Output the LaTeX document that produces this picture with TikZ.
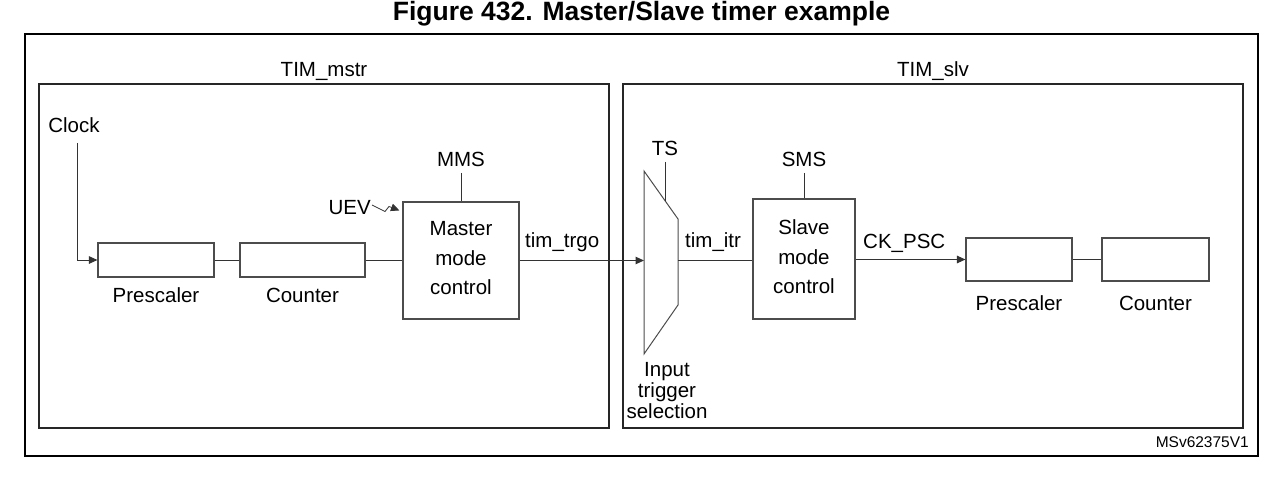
\documentclass[tikz,border=0pt]{standalone}
\usepackage{fontspec}
\setmainfont{Liberation Sans}
\usetikzlibrary{arrows.meta,calc}
\begin{document}
\begin{tikzpicture}[x=1pt,y=-1pt,
  txt/.style={inner sep=0pt,font=\fontsize{20.5}{24}\selectfont},
  smalltxt/.style={inner sep=0pt,font=\fontsize{15.5}{18}\selectfont},
  frame/.style={draw=black,line width=2.2pt},
  subframe/.style={draw=black!85,line width=1.6pt},
  blk/.style={draw=black!70,line width=1.1pt,inner sep=0pt},
  wire/.style={draw=black!80,line width=1pt},
  arr/.style={wire,-{Triangle[length=8.5pt,width=7.5pt]}}]
\useasboundingbox (0,0) rectangle (1288,484);
% title
\node[inner sep=0pt,anchor=base,font=\fontsize{26.5}{30}\bfseries\selectfont] (title) at (641.5,21) {Figure 432. Master/Slave timer example};
% frames
\draw[frame] (25,34) rectangle (1258,456);
\draw[subframe] (39,84) rectangle (609,428);
\draw[subframe] (623,84) rectangle (1243,428);
\node[txt,anchor=base] (tmstr) at (324,77) {TIM\_mstr};
\node[txt,anchor=base] (tslv) at (933,77) {TIM\_slv};
\node[smalltxt,anchor=base east] (ref) at (1249,447) {MSv62375V1};
% master side
\node[txt,anchor=base] (clk) at (74,133) {Clock};
\node[blk,minimum width=116pt,minimum height=34pt] (p1) at (156,260) {};
\node[blk,minimum width=125pt,minimum height=34pt] (c1) at (302.5,260) {};
\node[txt,anchor=base] (p1l) at (156,302) {Prescaler};
\node[txt,anchor=base] (c1l) at (302.5,302) {Counter};
\node[blk,minimum width=116pt,minimum height=117pt] (mmc) at (461,260.5) {};
\node[txt,align=center,text depth=0pt,font=\fontsize{20.5}{29.5}\selectfont] (mmct) at (461,258) {Master\\mode\\control};
\node[txt,anchor=base] (mms) at (461,167) {MMS};
\node[txt,anchor=base east] (uev) at (371,214) {UEV};
\node[txt,anchor=base west] (trgo) at (525,247) {tim\_trgo};
\coordinate (clkturn) at (77,260);
\coordinate (uevtip) at ($(mmc.north west)+(-3,9)$);
\draw[wire] (77,143) -- (clkturn);
\draw[arr] (clkturn) -- (p1.west);
\draw[wire] (p1.east) -- (c1.west);
\draw[wire] (c1.east) -- (mmc.west |- c1.east);
\draw[wire] (mms.south |- 0,173) -- (mmc.north);
\draw[arr,line width=0.8pt] (372,205) -- (385,211.5) -- (389,206.5) -- (uevtip);
% mux
\draw[blk,line width=1pt] (644,171) -- (678,219) -- (678,305) -- (644,354) -- cycle;
\coordinate (muxin) at (644,260.5);
\coordinate (muxout) at (678,260.5);
\coordinate (tstop) at (665,162);
\coordinate (tsbot) at (665,200.6);
\node[txt,anchor=base] (ts) at (665,156) {TS};
\draw[wire] (tstop) -- (tsbot);
\draw[arr] (mmc.east |- muxin) -- (muxin);
\node[txt,anchor=base west] (itr) at (685,247) {tim\_itr};
\node[txt,align=center,text depth=0pt,font=\fontsize{20.5}{21}\selectfont] (its) at (667,390.5) {Input\\trigger\\selection};
% slave side
\node[blk,minimum width=102pt,minimum height=120pt] (smc) at (804,259) {};
\node[txt,align=center,text depth=0pt,font=\fontsize{20.5}{29.5}\selectfont] (smct) at (804,257) {Slave\\mode\\control};
\node[txt,anchor=base] (sms) at (804,167) {SMS};
\draw[wire] (804,173) -- (smc.north);
\draw[wire] (muxout) -- (smc.west |- muxout);
\node[txt,anchor=base west] (ckpsc) at (863,248) {CK\_PSC};
\node[blk,minimum width=106pt,minimum height=43pt] (p2) at (1019,259.5) {};
\node[blk,minimum width=107pt,minimum height=43pt] (c2) at (1155.5,259.5) {};
\node[txt,anchor=base] (p2l) at (1019,310) {Prescaler};
\node[txt,anchor=base] (c2l) at (1155.5,310) {Counter};
\draw[arr] (smc.east |- p2.west) -- (p2.west);
\draw[wire] (p2.east) -- (c2.west);
\end{tikzpicture}
\end{document}
